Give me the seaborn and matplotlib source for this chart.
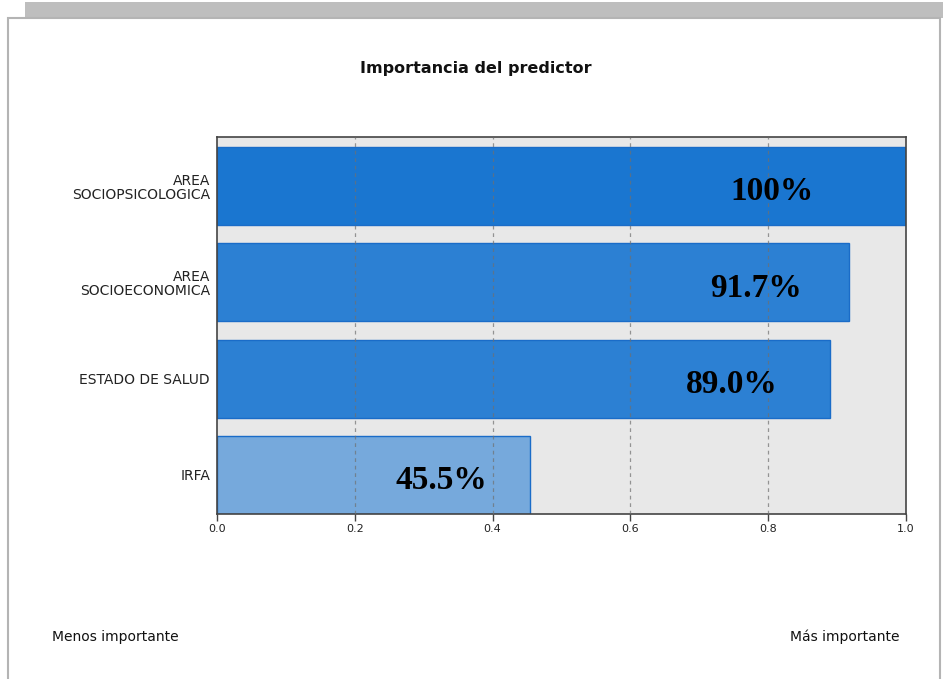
import numpy as np
import pandas as pd
import matplotlib
matplotlib.use("Agg")
import matplotlib.pyplot as plt
from matplotlib.patches import Rectangle
import seaborn as sns

# datos del gráfico
predictores = ["AREA\nSOCIOPSICOLOGICA", "AREA\nSOCIOECONOMICA", "ESTADO DE SALUD", "IRFA"]
importancia = [1.0, 0.917, 0.890, 0.455]
etiquetas = ["100%", "91.7%", "89.0%", "45.5%"]
desplaz_etiqueta = [-0.195, -0.135, -0.143, -0.13]
colores = ["#1a76d0", "#2c80d3", "#2c80d3", "#76a9dc"]
ticks_x = [0.0, 0.2, 0.4, 0.6, 0.8, 1.0]

df = pd.DataFrame({"predictor": predictores, "importancia": importancia})

sns.set_theme(style="white")
plt.rcParams["font.family"] = ["DejaVu Sans"]

fig = plt.figure(figsize=(9.43, 6.79), dpi=100)
W, H = 943, 679

# marco de fondo
fig.patches.append(Rectangle((25 / W, 1 - 18 / H), (W - 25) / W, 16 / H,
                             transform=fig.transFigure, facecolor="#bebebe",
                             edgecolor="none", zorder=-2))
fig.patches.append(Rectangle((8 / W, -0.01), (940 - 8) / W, 1 - 18 / H + 0.01,
                             transform=fig.transFigure, facecolor="white",
                             edgecolor="#b4b4b4", linewidth=1.5, zorder=-1))

ax = fig.add_axes([217 / W, 1 - 514 / H, (906 - 217) / W, (514 - 137) / H])
ax.set_zorder(5)
ax.set_facecolor("#e8e8e8")

sns.barplot(data=df, y="predictor", x="importancia", hue="predictor",
            palette=colores, orient="h", width=0.81, ax=ax, saturation=1,
            edgecolor="#1a6cc8", linewidth=1.0, legend=False, zorder=2)

for xv in ticks_x[1:-1]:
    ax.axvline(xv, color="#707070", linestyle=(0, (3, 3)), linewidth=0.9,
               alpha=0.7, zorder=3)

for i, (v, lab, d) in enumerate(zip(importancia, etiquetas, desplaz_etiqueta)):
    ax.text(v + d, i + 0.06, lab, ha="center", va="center",
            fontsize=24, fontweight="bold", family="Liberation Serif",
            color="black", zorder=4)

ax.set_xlim(0, 1.0)
ax.set_ylim(3.405, -0.509)
ax.set_xticks(ticks_x)
ax.set_xticklabels([f"{t:.1f}" for t in ticks_x], fontsize=8, color="#222222")
ax.tick_params(axis="x", direction="out", length=5, width=1, color="#444444", pad=2,
               bottom=True)
ax.tick_params(axis="y", length=0, pad=5)
for lbl in ax.get_yticklabels():
    lbl.set_fontsize(10)
    lbl.set_color("#222222")
    lbl.set_multialignment("right")
    lbl.set_linespacing(1.0)
ax.set_xlabel("")
ax.set_ylabel("")
for s in ax.spines.values():
    s.set_color("#444444")
    s.set_linewidth(1.2)

fig.text(476 / W, 1 - 68 / H, "Importancia del predictor", ha="center", va="center",
         fontsize=11.5, fontweight="bold", color="#111111")
fig.text(52 / W, 1 - 637 / H, "Menos importante", ha="left", va="center",
         fontsize=10, color="#111111")
fig.text(899 / W, 1 - 637 / H, "Más importante", ha="right", va="center",
         fontsize=10, color="#111111")

fig.savefig("out.png", dpi=100)
